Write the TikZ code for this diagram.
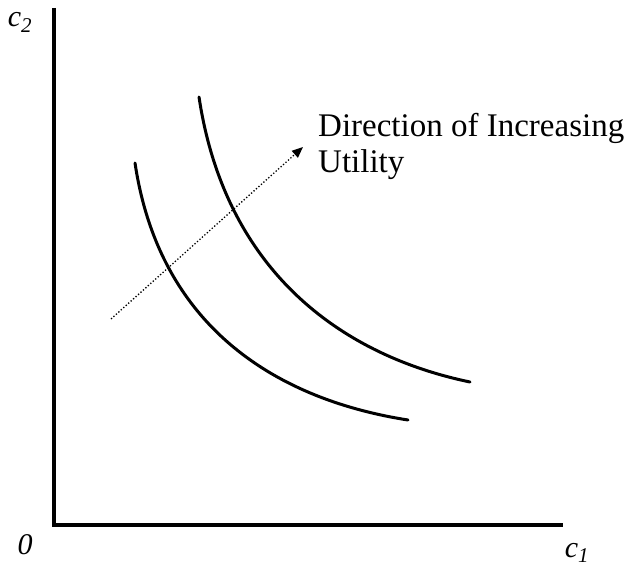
\documentclass[tikz,border=0pt]{standalone}
\usepackage{fontspec}
\setmainfont{Liberation Serif}
\usetikzlibrary{arrows.meta}
\begin{document}
\begin{tikzpicture}[x=1pt,y=-1pt,
  axis/.style={line width=4pt},
  curve/.style={line width=3pt,line cap=round},
  lbl/.style={font=\fontsize{33}{36}\selectfont,inner sep=0pt},
  var/.style={font=\fontsize{30}{34}\selectfont\itshape,inner sep=0pt},
  arr/.style={line width=1.3pt,dotted,-{Triangle[length=11pt,width=9pt]}}]
\useasboundingbox (0,0) rectangle (626,569);
\coordinate (top) at (54,8);
\coordinate (orig) at (54,525);
\coordinate (right) at (563,525);
\draw[axis] (top) -- (orig) -- (right);
\node[var,anchor=base] (zero) at (25,554) {0};
\node[var,anchor=base] (c2) at (20,27) {c\textsubscript{2}};
\node[var,anchor=base] (c1) at (577,557) {c\textsubscript{1}};
\coordinate (i1) at (135,163);
\coordinate (i2) at (408,420);
\coordinate (o1) at (199,97);
\coordinate (o2) at (470,382);
\draw[curve] (i1) .. controls (160,330) and (280,400) .. (i2);
\draw[curve] (o1) .. controls (225,270) and (340,355) .. (o2);
\coordinate (as) at (111,319);
\coordinate (ae) at (303,147);
\draw[arr] (as) -- (ae);
\node[lbl,anchor=base west,align=left] (txt) at (318,173) {Direction of Increasing\\Utility};
\end{tikzpicture}
\end{document}
